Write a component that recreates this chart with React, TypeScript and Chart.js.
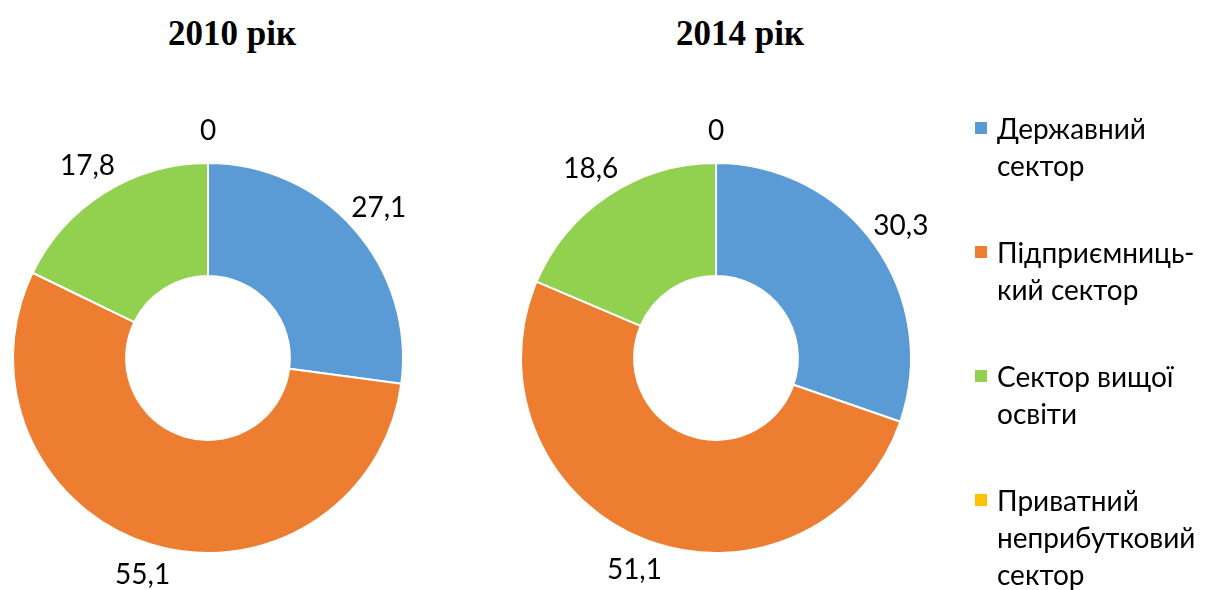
import React, { useEffect, useRef } from "react";
import { Chart, registerables } from "chart.js";
Chart.register(...registerables);

const categories = ["Державний сектор", "Підприємницький сектор", "Сектор вищої освіти", "Приватний неприбутковий сектор"];
const legendLines = [["Державний", "сектор"], ["Підприємниць-", "кий сектор"], ["Сектор вищої", "освіти"], ["Приватний", "неприбутковий", "сектор"]];
const years = ["2010 рік", "2014 рік"];
const values2010 = [27.1, 55.1, 17.8, 0];
const values2014 = [30.3, 51.1, 18.6, 0];
const colors = ["#5B9BD5", "#ED7D31", "#92D050", "#FFC000"];

const FONT = "Lato, 'Open Sans', sans-serif";

const fmt = (v: number) => String(v).replace(".", ",");

const labelPlugin = {
  id: "outLabels",
  afterDatasetsDraw(chart: any) {
    const ctx = chart.ctx;
    const meta = chart.getDatasetMeta(0);
    const data = chart.data.datasets[0].data as number[];
    ctx.save();
    ctx.font = "28px " + FONT;
    ctx.fillStyle = "#000";
    ctx.textAlign = "center";
    ctx.textBaseline = "middle";
    meta.data.forEach((arc: any, i: number) => {
      const p = arc.getProps(["x", "y", "startAngle", "endAngle", "outerRadius"], true);
      const mid = (p.startAngle + p.endAngle) / 2;
      const d = p.outerRadius + 32;
      ctx.fillText(fmt(data[i]), p.x + Math.cos(mid) * d, p.y + Math.sin(mid) * d);
    });
    ctx.restore();
  },
};

function Donut({ values, left }: { values: number[]; left: number }) {
  const ref = useRef<HTMLCanvasElement>(null);
  useEffect(() => {
    const chart = new Chart(ref.current!, {
      type: "doughnut",
      data: {
        labels: categories,
        datasets: [
          {
            data: values,
            backgroundColor: colors,
            borderColor: "#ffffff",
            borderWidth: 2,
          },
        ],
      },
      options: {
        animation: false,
        responsive: false,
        maintainAspectRatio: false,
        cutout: "42%",
        layout: { padding: { left: 12, right: 76, top: 62, bottom: 36 } },
        plugins: { legend: { display: false }, tooltip: { enabled: false } },
      },
      plugins: [labelPlugin],
    });
    return () => chart.destroy();
  }, [values]);
  return (
    <canvas
      ref={ref}
      width={480}
      height={490}
      style={{ position: "absolute", left, top: 100, width: 480, height: 490 }}
    />
  );
}

export default function App() {
  return (
    <div
      style={{
        position: "absolute",
        left: 0,
        top: 0,
        width: 1206,
        height: 590,
        overflow: "hidden",
        background: "#fff",
      }}
    >
      {years.map((y, i) => (
        <div
          key={y}
          style={{
            position: "absolute",
            left: 232 + i * 508 - 150,
            width: 300,
            top: 12,
            textAlign: "center",
            fontFamily: "'Liberation Serif', 'Times New Roman', serif",
            fontWeight: "bold",
            fontSize: 35,
            lineHeight: "44px",
          }}
        >
          {y}
        </div>
      ))}
      <Donut values={values2010} left={0} />
      <Donut values={values2014} left={508} />
      {legendLines.map((lines, i) => (
        <div key={i} style={{ position: "absolute", left: 975, top: 110 + i * 124 }}>
          <div
            style={{
              position: "absolute",
              left: 0,
              top: 12,
              width: 12,
              height: 12,
              background: colors[i],
            }}
          />
          <div
            style={{
              position: "absolute",
              left: 22,
              top: 0,
              fontFamily: FONT,
              fontSize: 28,
              lineHeight: "37px",
              whiteSpace: "nowrap",
              color: "#000",
            }}
          >
            {lines.map((l, j) => (
              <div key={j}>{l}</div>
            ))}
          </div>
        </div>
      ))}
    </div>
  );
}
